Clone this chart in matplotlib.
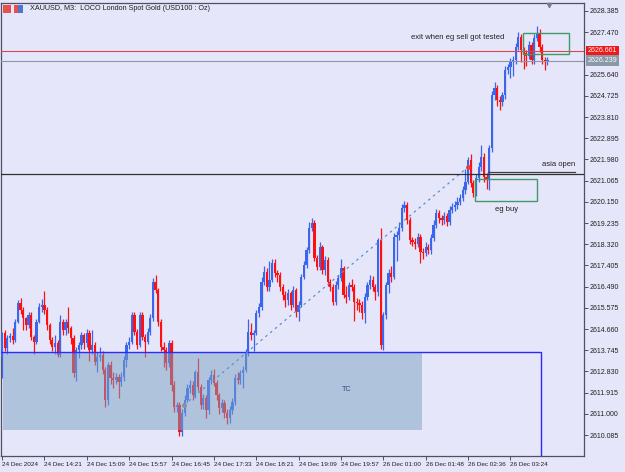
import matplotlib
matplotlib.use("Agg")
import matplotlib.pyplot as plt
from matplotlib.patches import Rectangle

plt.rcParams['font.family'] = ['Liberation Sans', 'DejaVu Sans']

# XAUUSD M3 candles (prices)
first_open = 2613.45
closes = [
    2614.49, 2613.84, 2614.27, 2614.36, 2614.19, 2614.96, 2615.78, 2615.48, 2615.14, 2614.83,
    2615.26, 2614.32, 2614.10, 2614.96, 2615.61, 2615.70, 2615.48, 2614.83, 2614.19, 2613.88,
    2614.06, 2613.54, 2614.96, 2614.62, 2614.96, 2614.70, 2614.27, 2612.76, 2613.75, 2613.97,
    2614.40, 2614.06, 2614.49, 2613.75, 2613.97, 2613.24, 2613.45, 2613.54, 2612.89, 2611.60,
    2613.11, 2612.55, 2612.46, 2612.59, 2612.37, 2612.59, 2613.32, 2613.97, 2614.10, 2615.26,
    2614.53, 2613.97, 2615.26, 2614.32, 2614.10, 2614.53, 2615.14, 2616.69, 2616.34, 2614.96,
    2613.88, 2613.75, 2613.19, 2614.06, 2612.24, 2611.29, 2611.38, 2610.21, 2611.03, 2611.60,
    2612.11, 2612.24, 2611.81, 2612.80, 2612.16, 2611.38, 2611.68, 2611.16, 2612.46, 2612.67,
    2612.33, 2611.81, 2611.25, 2611.47, 2611.03, 2610.82, 2611.16, 2611.51, 2612.55, 2612.46,
    2612.76, 2612.89, 2613.62, 2614.53, 2614.40, 2614.49, 2615.35, 2615.61, 2616.69, 2617.12,
    2616.47, 2616.78, 2617.51, 2617.08, 2616.99, 2616.47, 2616.13, 2615.91, 2616.21, 2615.70,
    2616.34, 2615.39, 2615.70, 2616.90, 2617.42, 2618.07, 2619.02, 2619.24, 2617.72, 2617.34,
    2618.20, 2617.21, 2617.64, 2616.69, 2616.47, 2615.83, 2616.56, 2616.86, 2617.29, 2616.13,
    2616.04, 2616.56, 2616.47, 2615.83, 2615.78, 2615.70, 2615.35, 2616.04, 2616.56, 2616.78,
    2616.47, 2616.26, 2618.50, 2613.97, 2615.26, 2616.56, 2617.08, 2616.90, 2618.63, 2618.72,
    2619.02, 2619.88, 2620.01, 2619.36, 2618.50, 2618.42, 2618.33, 2618.63, 2617.98, 2617.94,
    2618.20, 2618.07, 2618.59, 2619.15, 2619.67, 2619.45, 2619.36, 2619.54, 2619.28, 2619.80,
    2619.93, 2620.01, 2620.14, 2620.31, 2620.66, 2621.00, 2621.95, 2620.96, 2620.53, 2621.18,
    2621.65, 2622.08, 2621.22, 2621.13, 2622.47, 2624.76, 2625.06, 2624.54, 2624.46, 2624.76,
    2625.84, 2625.97, 2626.18, 2626.27, 2626.83, 2627.26, 2626.70, 2626.57, 2626.44, 2626.92,
    2626.27, 2627.22, 2627.44, 2626.83, 2626.27, 2626.18, 2626.27]
highs = [
    2614.55, 2614.60, 2614.40, 2614.50, 2614.70, 2615.10, 2615.90, 2616.00, 2615.60, 2615.20,
    2615.40, 2615.40, 2614.40, 2615.10, 2615.80, 2615.95, 2616.30, 2615.60, 2614.90, 2614.30,
    2614.40, 2614.20, 2615.25, 2615.10, 2615.10, 2615.60, 2614.80, 2614.40, 2613.90, 2614.10,
    2614.55, 2614.50, 2614.65, 2614.60, 2614.60, 2614.10, 2613.65, 2613.90, 2613.70, 2613.00,
    2613.25, 2613.30, 2612.80, 2612.75, 2612.70, 2612.80, 2613.50, 2614.10, 2614.30, 2615.40,
    2615.40, 2614.65, 2615.40, 2615.40, 2614.45, 2614.70, 2615.30, 2616.85, 2617.00, 2616.45,
    2615.10, 2614.10, 2613.90, 2614.20, 2614.20, 2612.40, 2611.50, 2611.50, 2611.20, 2611.80,
    2612.30, 2612.45, 2612.40, 2612.90, 2613.40, 2612.30, 2611.85, 2611.80, 2612.60, 2612.90,
    2612.95, 2612.45, 2611.90, 2611.65, 2611.60, 2611.20, 2611.35, 2611.70, 2612.70, 2612.80,
    2612.90, 2613.05, 2613.80, 2615.10, 2614.90, 2614.60, 2615.50, 2615.80, 2616.90, 2617.40,
    2617.30, 2617.60, 2617.70, 2617.70, 2617.20, 2617.10, 2616.60, 2616.30, 2616.40, 2616.30,
    2616.50, 2616.45, 2615.85, 2617.05, 2617.60, 2618.20, 2619.30, 2619.45, 2619.35, 2617.85,
    2618.40, 2618.30, 2617.80, 2617.75, 2616.80, 2616.60, 2616.75, 2617.00, 2617.70, 2617.40,
    2616.50, 2616.70, 2616.80, 2616.60, 2616.00, 2615.95, 2615.85, 2616.20, 2616.70, 2617.00,
    2616.95, 2616.60, 2618.60, 2619.02, 2615.40, 2616.70, 2617.25, 2617.40, 2618.80, 2618.90,
    2619.30, 2620.05, 2620.20, 2620.15, 2619.50, 2618.65, 2618.60, 2618.80, 2618.75, 2618.15,
    2618.40, 2618.35, 2618.75, 2619.35, 2619.85, 2619.80, 2619.60, 2619.70, 2619.65, 2619.95,
    2620.10, 2620.20, 2620.35, 2620.50, 2620.85, 2621.55, 2622.10, 2622.20, 2621.10, 2621.35,
    2621.85, 2622.60, 2622.25, 2621.40, 2622.60, 2624.95, 2625.30, 2625.20, 2624.70, 2624.90,
    2626.00, 2626.10, 2626.35, 2626.45, 2627.00, 2627.50, 2627.40, 2626.85, 2626.70, 2627.10,
    2627.05, 2627.40, 2627.72, 2627.60, 2626.95, 2626.40, 2626.40]
lows = [
    2612.55, 2613.70, 2613.60, 2614.10, 2614.00, 2614.10, 2614.90, 2615.30, 2614.60, 2614.60,
    2614.70, 2614.20, 2613.60, 2614.00, 2614.90, 2615.40, 2615.30, 2614.60, 2614.00, 2613.70,
    2613.60, 2613.45, 2613.45, 2614.40, 2614.40, 2614.50, 2614.00, 2612.60, 2612.40, 2613.40,
    2613.80, 2613.80, 2613.90, 2613.30, 2613.60, 2613.10, 2612.80, 2613.30, 2612.70, 2611.30,
    2611.40, 2612.30, 2612.10, 2612.30, 2611.70, 2612.20, 2612.40, 2613.00, 2613.80, 2614.00,
    2614.40, 2613.80, 2613.90, 2614.20, 2613.45, 2614.00, 2614.40, 2615.00, 2616.20, 2614.80,
    2613.70, 2613.00, 2612.90, 2613.00, 2612.00, 2611.10, 2611.10, 2610.05, 2610.05, 2610.90,
    2611.50, 2611.90, 2611.60, 2611.70, 2612.00, 2611.20, 2611.20, 2610.80, 2611.00, 2612.30,
    2612.20, 2611.60, 2611.00, 2611.10, 2610.80, 2610.55, 2610.60, 2611.00, 2611.40, 2612.30,
    2612.30, 2612.10, 2612.80, 2613.50, 2614.20, 2613.70, 2614.40, 2615.20, 2615.50, 2616.55,
    2616.30, 2616.30, 2616.70, 2616.90, 2616.70, 2616.30, 2615.90, 2615.60, 2615.70, 2615.50,
    2615.60, 2615.20, 2615.00, 2615.60, 2616.80, 2617.30, 2617.95, 2618.90, 2617.60, 2617.20,
    2617.20, 2617.05, 2617.00, 2616.50, 2616.30, 2615.70, 2615.70, 2616.40, 2616.75, 2616.00,
    2615.80, 2615.90, 2616.30, 2615.00, 2615.50, 2615.40, 2615.10, 2614.90, 2615.90, 2616.40,
    2616.30, 2615.90, 2616.10, 2613.80, 2613.75, 2615.10, 2616.20, 2616.70, 2616.80, 2617.60,
    2618.50, 2618.90, 2619.70, 2619.20, 2618.35, 2618.25, 2618.10, 2618.20, 2617.50, 2617.70,
    2617.80, 2617.90, 2617.90, 2618.45, 2619.00, 2619.25, 2619.15, 2619.20, 2619.10, 2619.15,
    2619.65, 2619.75, 2619.85, 2620.00, 2620.20, 2620.50, 2620.90, 2620.80, 2620.35, 2620.40,
    2621.00, 2621.50, 2621.00, 2620.70, 2620.65, 2622.30, 2624.55, 2624.30, 2624.10, 2624.30,
    2624.60, 2625.65, 2625.50, 2625.60, 2626.10, 2626.70, 2626.20, 2625.90, 2626.00, 2626.30,
    2626.10, 2626.10, 2627.10, 2626.60, 2626.10, 2625.85, 2626.05]

# 2626.555 sits under the price labels, so it is left out
price_ticks = [2610.085, 2611.000, 2611.915, 2612.830, 2613.745, 2614.660, 2615.575,
               2616.490, 2617.405, 2618.320, 2619.235, 2620.150, 2621.065, 2621.980,
               2622.895, 2623.810, 2624.725, 2625.640, 2627.470, 2628.385]
time_labels = ["24 Dec 2024", "24 Dec 14:21", "24 Dec 15:09", "24 Dec 15:57",
               "24 Dec 16:45", "24 Dec 17:33", "24 Dec 18:21", "24 Dec 19:09",
               "24 Dec 19:57", "26 Dec 01:00", "26 Dec 01:48", "26 Dec 02:36",
               "26 Dec 03:24"]

bg = "#e6e6fa"
bull = "#3a66ee"
bear = "#ff1010"
zone_green = "#3f9a68"

opens = [first_open] + closes[:-1]
idx = list(range(len(closes)))

fig = plt.figure(figsize=(6.25, 4.72), dpi=100, facecolor=bg)
ax = fig.add_axes([1 / 625, 16 / 472, 583 / 625, 453 / 472], facecolor=bg)
ax.set_xlim(-0.4, 219.8)
ax.set_ylim(2609.18, 2628.73)

# candles
for i in idx:
    o, c = opens[i], closes[i]
    col = bull if c >= o else bear
    ax.vlines(i, lows[i], highs[i], color=col, lw=0.9, zorder=3)
    h = max(abs(c - o), 0.03)
    ax.bar(i, h, bottom=min(o, c), width=0.85, color=col, lw=0, zorder=3)

# TC zone (drawn over candles, semi transparent)
ax.add_patch(Rectangle((0.4, 2610.30), 158.2, 3.37, facecolor="#7aa2c2",
                       alpha=0.5, lw=0, zorder=4))
ax.text(130.3, 2612.03, "TC", fontsize=5.2, color="#404a80", ha="center", va="center", zorder=5)
ax.add_patch(Rectangle((-5, 2605), 208.5, 8.67, facecolor="none",
                       edgecolor="#2a2aff", lw=1.0, zorder=5))

# trend line
ax.plot([68.7, 176.0], [2611.38, 2621.65], color="#5b8fd0", lw=0.9,
        ls=(0, (2, 3)), zorder=5)
ax.plot(68.7, 2611.38, marker="o", ms=2.5, color="#8890a0", zorder=6)
ax.plot(176.0, 2621.65, marker="o", ms=2.5, color="#e04040", zorder=6)

# horizontal levels
ax.axhline(2621.35, color="#303030", lw=0.9, zorder=5)
ax.plot([183.5, 216.4], [2621.45, 2621.45], color="#404040", lw=0.9, zorder=5)
ax.text(216.4, 2621.62, "asia open", fontsize=5.5, color="#202020", ha="right",
        va="bottom", zorder=6)
ax.axhline(2626.661, color="#d84848", lw=0.8, zorder=5)
ax.axhline(2626.239, color="#8a98a8", lw=0.8, zorder=5)

# eg buy zone
ax.add_patch(Rectangle((178.6, 2620.18), 23.4, 0.95, facecolor="none",
                       edgecolor=zone_green, lw=1.0, zorder=5))
ax.text(190.7, 2619.80, "eg buy", fontsize=5.5, color="#202020", ha="center",
        va="center", zorder=6)

# exit zone
ax.add_patch(Rectangle((196.8, 2626.53), 17.3, 0.91, facecolor="none",
                       edgecolor=zone_green, lw=1.0, zorder=5))
ax.text(172.2, 2627.22, "exit when eg sell got tested", fontsize=5.5, color="#202020",
        ha="center", va="center", zorder=6)

# shift marker at top
ax.plot(206.5, 2628.66, marker="v", ms=3, color="#7a7a8a", clip_on=False, zorder=6)

# axes
for s in ["left", "top", "bottom", "right"]:
    ax.spines[s].set_color("#505060")
    ax.spines[s].set_linewidth(0.9)
ax.yaxis.tick_right()
ax.set_yticks(price_ticks)
ax.set_yticklabels([f"{t:.3f}" for t in price_ticks])
ax.set_xticks(list(range(0, 16 * len(time_labels), 16)))
ax.set_xticklabels(time_labels, ha="left")
ax.tick_params(axis="y", length=3, width=0.7, colors="#505060", labelsize=5,
               labelcolor="#202020", pad=1)
ax.tick_params(axis="x", length=3, width=0.7, colors="#505060", labelsize=4.6,
               labelcolor="#202020", pad=1.5)

# price labels on the axis
ytr = ax.get_yaxis_transform()
ax.text(1.006, 2626.661, "2626.661", transform=ytr, fontsize=5, color="white",
        va="center", ha="left", zorder=7, clip_on=False,
        bbox=dict(boxstyle="square,pad=0.25", fc="#f01818", ec="none"))
ax.text(1.006, 2626.239, "2626.239", transform=ytr, fontsize=5, color="white",
        va="center", ha="left", zorder=7, clip_on=False,
        bbox=dict(boxstyle="square,pad=0.25", fc="#8a98a8", ec="none"))

# header
fig.patches.append(Rectangle((3 / 625, 1 - 13 / 472), 8 / 625, 8 / 472, transform=fig.transFigure,
                             fc="#e85050", ec="none"))
fig.patches.append(Rectangle((14 / 625, 1 - 13 / 472), 4 / 625, 8 / 472, transform=fig.transFigure,
                             fc="#e85050", ec="none"))
fig.patches.append(Rectangle((18 / 625, 1 - 13 / 472), 5 / 625, 8 / 472, transform=fig.transFigure,
                             fc="#4a78d0", ec="none"))
fig.text(30 / 625, 1 - 9 / 472, "XAUUSD, M3:  LOCO London Spot Gold (USD100 : Oz)",
         fontsize=5.2, color="#202020", va="center", ha="left")

fig.savefig("out.png", dpi=100, facecolor=bg)
